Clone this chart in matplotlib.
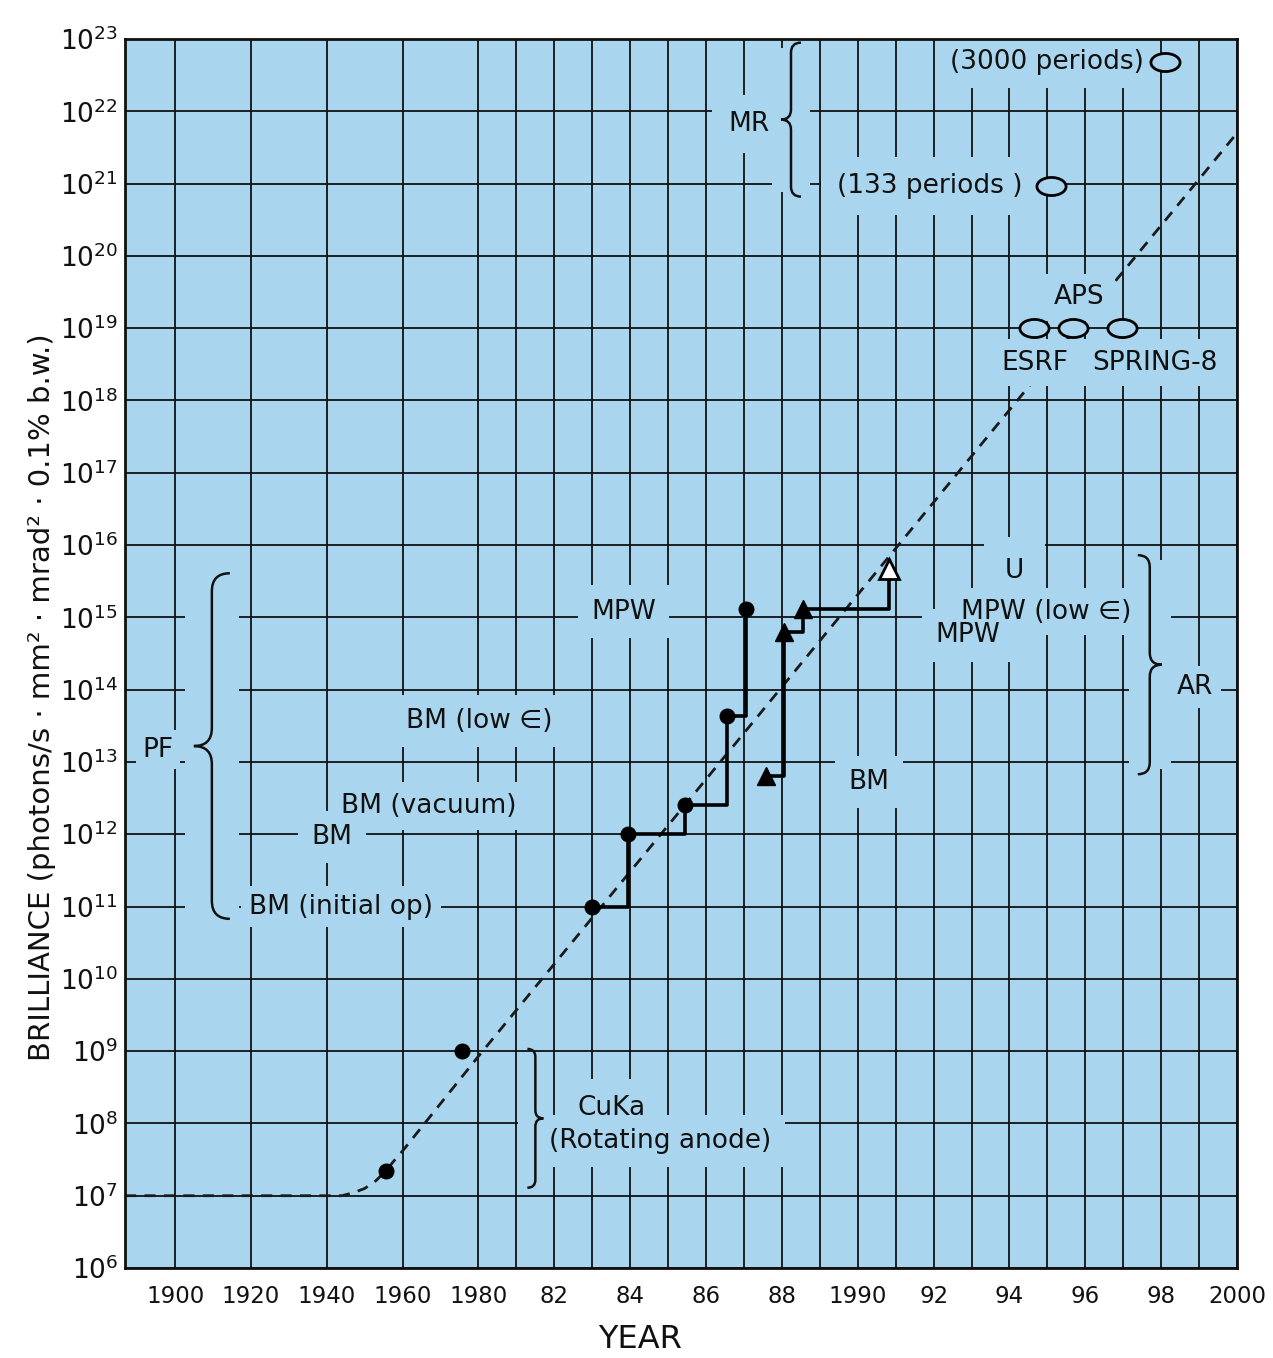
import numpy as np
import matplotlib
matplotlib.use("Agg")
import matplotlib.pyplot as plt
from matplotlib.path import Path
from matplotlib.patches import PathPatch, Rectangle
from matplotlib.transforms import Affine2D
from matplotlib.ticker import FixedLocator, FixedFormatter, NullLocator

plt.rcParams["font.family"] = ["DejaVu Sans"]

# ---------------- data ----------------
tick_years = [1900, 1920, 1940, 1960, 1980, 1982, 1984, 1986, 1988, 1990,
              1992, 1994, 1996, 1998, 2000]
tick_labels = ["1900", "1920", "1940", "1960", "1980", "82", "84", "86", "88",
               "1990", "92", "94", "96", "98", "2000"]
minor_years = [1981, 1983, 1985, 1987, 1989, 1991, 1993, 1995, 1997, 1999]
y_exponents = list(range(6, 24))

# dashed trend line
trend_years = [1886.8, 1944, 1947, 1950, 1953, 1955.5, 1958, 1960, 1980, 2000]
trend_vals = [1e7, 1e7, 1.1e7, 1.26e7, 1.62e7, 2.19e7, 3.16e7, 4.17e7, 8.5e8, 5e21]

# rotating anode points
anode_years = [1955.5, 1975.6]
anode_vals = [2.2e7, 1.0e9]

# PF (Photon Factory) step history
pf_years = [1983.0, 1983.95, 1985.45, 1986.55, 1987.05]
pf_vals = [1.0e11, 1.0e12, 2.5e12, 4.3e13, 1.3e15]

# AR step history
ar_years = [1987.58, 1988.06, 1988.55, 1990.83]
ar_vals = [6.3e12, 6.2e14, 1.3e15, 4.6e15]

# MR (future) and third-generation rings (ellipses)
mr_years = [1998.1, 1995.1]
mr_vals = [4.8e22, 9.3e20]
ring_years = [1994.66, 1995.67, 1996.96]
ring_vals = [1.0e19, 1.0e19, 1.0e19]

BG = "#a9d6ee"
INK = "#111111"


# ---------------- scale ----------------
def fwd(y):
    y = np.asarray(y, dtype=float)
    return np.where(y <= 1980, (y - 1900) / 20.0, 4 + (y - 1980) / 2.0)


def inv(p):
    p = np.asarray(p, dtype=float)
    return np.where(p <= 4, 1900 + 20.0 * p, 1980 + 2.0 * (p - 4))


W, H = 1273, 1358
fig = plt.figure(figsize=(W / 100, H / 100), dpi=100)
ax = fig.add_axes([125 / W, (H - 1268) / H, (1237 - 125) / W, (1268 - 39) / H])
ax.set_facecolor(BG)
ax.set_xscale("function", functions=(fwd, inv))
ax.set_yscale("log")
ax.set_xlim(1886.8, 2000)
ax.set_ylim(1e6, 1e23)

ax.xaxis.set_major_locator(FixedLocator(tick_years))
ax.xaxis.set_major_formatter(FixedFormatter(tick_labels))
ax.xaxis.set_minor_locator(FixedLocator(minor_years))
ax.yaxis.set_major_locator(FixedLocator([10.0 ** e for e in y_exponents]))
ax.yaxis.set_major_formatter(FixedFormatter([r"$10^{%d}$" % e for e in y_exponents]))
ax.yaxis.set_minor_locator(NullLocator())
ax.tick_params(axis="both", which="both", length=0, colors=INK)
ax.tick_params(axis="x", labelsize=16.5, pad=12)
ax.tick_params(axis="y", labelsize=19, pad=5)
ax.set_axisbelow(True)
ax.grid(True, which="both", color=INK, lw=1.3)
for sp in ax.spines.values():
    sp.set_linewidth(2.0)
    sp.set_color(INK)
    sp.set_zorder(6)

# ---------------- marks ----------------
ax.plot(trend_years, trend_vals, color="#1a1a1a", lw=2.0, dashes=(4, 3), zorder=2)
ax.plot(anode_years, anode_vals, "o", color="black", ms=10.5, zorder=4)
ax.plot(pf_years, pf_vals, color="black", lw=2.6, drawstyle="steps-post", zorder=2.5)
ax.plot(pf_years, pf_vals, "o", color="black", ms=10.5, zorder=4)
ax.plot(ar_years, ar_vals, color="black", lw=2.6, drawstyle="steps-post", zorder=2.5)
ax.plot(ar_years[:-1], ar_vals[:-1], "^", color="black", ms=13, zorder=4)
ax.plot(ar_years[-1:], ar_vals[-1:], "^", mfc="white", mec="black", mew=2, ms=15, zorder=4)

ell = Path.unit_circle().transformed(Affine2D().scale(1.0, 0.62))
ax.plot(mr_years, mr_vals, ls="none", marker=ell, ms=21, mfc=BG, mec="black",
        mew=2, zorder=4)
ax.plot(ring_years, ring_vals, ls="none", marker=ell, ms=21, mfc=BG, mec="black",
        mew=2, zorder=4)


# ---------------- annotations ----------------
def label(x, y, s, pad=0.4, size=19):
    # background box (cuts the grid) drawn below all annotation text
    ax.text(x, y, s, ha="center", va="center", fontsize=size, color=(0, 0, 0, 0),
            zorder=2.8, clip_on=True,
            bbox=dict(boxstyle="square,pad=%g" % pad, fc=BG, ec="none"))
    ax.text(x, y, s, ha="center", va="center", fontsize=size, color=INK,
            zorder=3.2, clip_on=True)


label(1987.13, 10 ** 21.82, "MR", pad=0.6)
label(1994.98, 10 ** 22.68, "(3000 periods)", pad=0.5)
label(1991.89, 10 ** 20.97, "(133 periods )", pad=0.6)
label(1995.85, 10 ** 19.43, "APS", pad=0.4)
label(1994.66, 10 ** 18.52, "ESRF", pad=0.4)
label(1997.83, 10 ** 18.52, "SPRING-8", pad=0.4)
label(1994.13, 10 ** 15.64, "U", pad=0.8)
label(1994.98, 10 ** 15.08, "MPW (low \u2208)", pad=0.4)
label(1992.89, 10 ** 14.75, "MPW", pad=0.5)
label(1998.89, 10 ** 14.04, "AR", pad=0.3)
label(1983.83, 10 ** 15.08, "MPW", pad=0.5)
label(1990.3, 10 ** 12.72, "BM", pad=0.5)
label(1980.03, 10 ** 13.57, "BM (low \u2208)", pad=0.5)
label(1966.9, 10 ** 12.39, "BM (vacuum)", pad=0.4)
label(1941.4, 10 ** 11.96, "BM", pad=0.5)
label(1943.8, 10 ** 11.0, "BM (initial op)", pad=0.3)
label(1895.5, 10 ** 13.17, "PF", pad=0.25)
label(1983.5, 10 ** 8.22, "CuKa", pad=0.6)
label(1984.8, 10 ** 7.76, "(Rotating anode)", pad=0.5)


def brace(x, y_lo, y_hi, side, w, padx=9):
    """Curly brace; side=-1 tip points left, +1 tip points right (w in px)."""
    xs, yb = ax.transData.transform((x, y_lo))
    _, yt = ax.transData.transform((x, y_hi))
    ym = 0.5 * (yb + yt)
    e = -side * w
    t = side * w
    verts = [(xs + e, yt), (xs, yt), (xs, yt - w), (xs, ym + w), (xs, ym),
             (xs + t, ym), (xs, ym), (xs, ym - w), (xs, yb + w), (xs, yb),
             (xs + e, yb)]
    codes = [Path.MOVETO, Path.CURVE3, Path.CURVE3, Path.LINETO, Path.CURVE3,
             Path.CURVE3, Path.CURVE3, Path.CURVE3, Path.LINETO, Path.CURVE3,
             Path.CURVE3]
    inv_ax = ax.transAxes.inverted()
    v_ax = inv_ax.transform(verts)
    ax.add_patch(PathPatch(Path(v_ax, codes), transform=ax.transAxes, fc="none",
                           ec=INK, lw=1.8, zorder=3.5))
    x0 = min(xs + e, xs + t) - padx
    x1 = max(xs + e, xs + t) + padx
    (ax0, ay0), (ax1, ay1) = inv_ax.transform([(x0, yb + 5), (x1, yt - 5)])
    ax.add_patch(Rectangle((ax0, ay0), ax1 - ax0, ay1 - ay0, transform=ax.transAxes,
                           fc=BG, ec="none", zorder=1.5))


brace(1988.24, 10 ** 20.82, 10 ** 22.95, -1, 10)
brace(1909.7, 10 ** 10.83, 10 ** 15.61, -1, 18)
brace(1981.5, 10 ** 7.11, 10 ** 9.03, +1, 8)
brace(1997.7, 10 ** 12.83, 10 ** 15.86, +1, 12)

fig.text(42 / W, 1 - 697 / H,
         "BRILLIANCE (photons/s \u00b7 mm\u00b2 \u00b7 mrad\u00b2 \u00b7 0.1% b.w.)",
         rotation=90, ha="center", va="center", fontsize=21, color=INK)
fig.text(640 / W, 1 - 1340 / H, "YEAR", ha="center", va="center", fontsize=23,
         color=INK)

fig.savefig("out.png", dpi=100, facecolor="white")
